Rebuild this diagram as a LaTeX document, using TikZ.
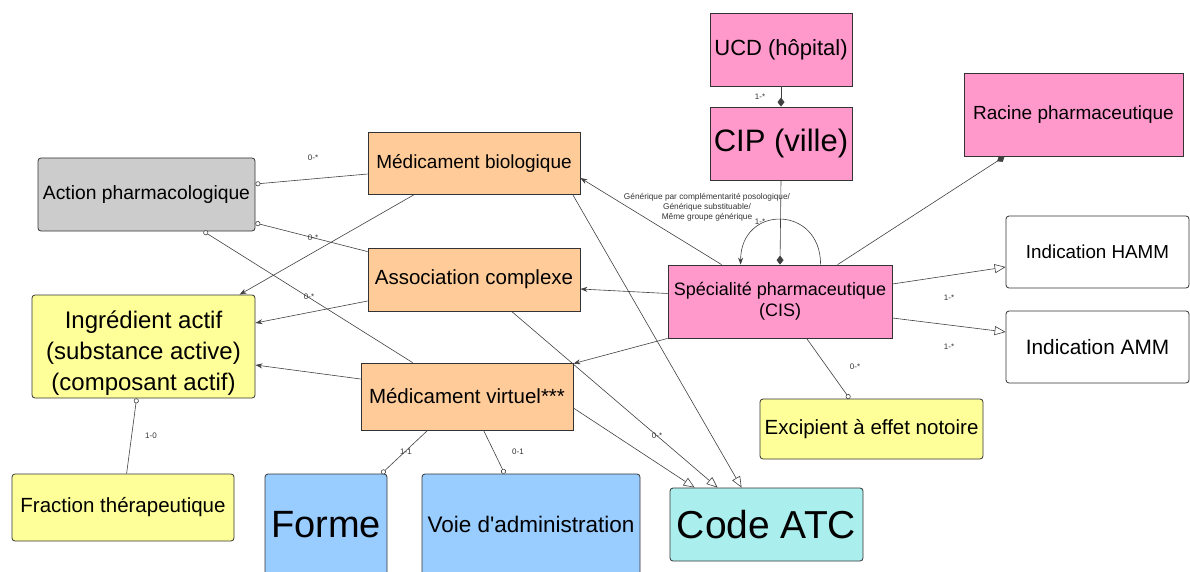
\documentclass[tikz,border=0pt]{standalone}
\usepackage{fontspec}
\setmainfont{Liberation Sans}
\usetikzlibrary{arrows.meta,calc}
\definecolor{cpink}{HTML}{FF99CC}
\definecolor{corange}{HTML}{FFCC99}
\definecolor{cgray}{HTML}{CCCCCC}
\definecolor{cyellow}{HTML}{FFFF99}
\definecolor{cblue}{HTML}{99CCFF}
\definecolor{ccyan}{HTML}{AAEEEE}
\definecolor{cline}{HTML}{404040}
\definecolor{cborder}{HTML}{333333}
\newcommand{\fs}[1]{\fontsize{#1}{\fpeval{#1*1.2}}\selectfont}
\tikzset{
  box/.style={draw=cborder, line width=0.8pt, inner sep=2pt, align=center, text=black},
  rbox/.style={box, rounded corners=3pt},
  conn/.style={draw=cline, line width=0.6pt},
  toarr/.style={conn, -{Stealth[length=7pt,width=5pt]}},
  triarr/.style={conn, -{Triangle[open,length=11pt,width=9pt,fill=white]}},
  circarr/.style={conn, -{Circle[open,length=5pt,fill=white]}},
  diamarr/.style={conn, -{Diamond[length=9pt,width=7pt]}},
  mult/.style={font=\fontsize{8}{9.6}\selectfont, text=cborder, inner sep=0pt},
}
\begin{document}
\begin{tikzpicture}[x=1pt,y=-1pt]
\useasboundingbox (0,0) rectangle (1190,572);
\clip (0,0) rectangle (1190,572);
% boxes
\node[box, fill=cpink, minimum width=142pt, minimum height=73pt, font=\fs{22}] (ucd) at (781,49.5) {UCD (hôpital)};
\node[box, fill=cpink, minimum width=142pt, minimum height=73pt, font=\fs{31}] (cip) at (781,143.5) {CIP (ville)};
\node[box, fill=cpink, minimum width=219pt, minimum height=83pt, font=\fs{19}] (racine) at (1073.5,114.5) {Racine pharmaceutique};
\node[box, fill=corange, minimum width=212pt, minimum height=62pt, font=\fs{19}] (medbio) at (474,163) {Médicament biologique};
\node[box, fill=corange, minimum width=212pt, minimum height=63pt, font=\fs{20.5}] (assoc) at (474,279.5) {Association complexe};
\node[box, fill=corange, minimum width=212pt, minimum height=67pt, font=\fs{20.5}] (virt) at (467,396.5) {Médicament virtuel***};
\node[box, fill=cpink, minimum width=224pt, minimum height=73pt, font=\fontsize{18}{21}\selectfont] (spec) at (780,301.5) {Spécialité pharmaceutique\\(CIS)};
\node[rbox, fill=cgray, minimum width=217pt, minimum height=73pt, font=\fs{19.3}] (action) at (146.5,194.5) {Action pharmacologique};
\node[rbox, fill=cyellow, minimum width=223pt, minimum height=103pt, font=\fontsize{24}{31}\selectfont] (ingr) at (143.5,346.5) {\rule{0pt}{30pt}Ingrédient actif\\(substance active)\\(composant actif)};
\node[rbox, fill=cyellow, minimum width=222pt, minimum height=67pt, font=\fs{20.5}] (fraction) at (123,507.5) {Fraction thérapeutique};
\node[rbox, fill=cblue, minimum width=122pt, minimum height=101pt, font=\fs{38}] (forme) at (326,524.5) {Forme};
\node[rbox, fill=cblue, minimum width=218pt, minimum height=101pt, font=\fs{22.5}] (voie) at (531,524.5) {Voie d\textquotesingle administration};
\node[rbox, fill=ccyan, minimum width=193pt, minimum height=73pt, font=\fs{39}] (atc) at (766.5,524.5) {Code ATC};
\node[rbox, fill=cyellow, minimum width=223pt, minimum height=60pt, font=\fs{20.5}] (excip) at (871.5,429) {Excipient à effet notoire};
\node[rbox, fill=white, minimum width=183pt, minimum height=72pt, font=\fs{18.8}] (hamm) at (1097.5,252) {Indication HAMM};
\node[rbox, fill=white, minimum width=183pt, minimum height=72pt, font=\fs{20.8}] (amm) at (1097.5,347) {Indication AMM};
% connectors
\draw[diamarr] (ucd.south) -- (cip.north);
\draw[diamarr] (cip.south) -- (spec.north);
\draw[toarr] ($(spec.north west)+(153,0)$) .. controls +(0,-60) and +(0,-60) .. ($(spec.north west)+(73,0)$);
\draw[toarr] ($(spec.north west)+(54,0)$) -- ($(medbio.east)+(0,15)$);
\draw[toarr] ($(spec.west)+(0,-8)$) -- ($(assoc.east)+(0,9.5)$);
\draw[toarr] (spec.south west) -- ($(virt.north east)+(0,1)$);
\draw[diamarr] ($(spec.north west)+(170,0)$) -- ($(racine.south west)+(41,0)$);
\draw[triarr] ($(spec.east)+(0,-17.5)$) -- ($(hamm.west)+(0,15)$);
\draw[triarr] ($(spec.east)+(0,16.5)$) -- ($(amm.west)+(0,-15)$);
\draw[circarr] ($(spec.south west)+(139,0)$) -- ($(excip.north west)+(90,0)$);
\draw[circarr] ($(medbio.west)+(0,11)$) -- ($(action.east)+(0,-10.5)$);
\draw[circarr] ($(assoc.north west)+(0,4)$) -- ($(action.east)+(0,28.5)$);
\draw[circarr] ($(virt.north west)+(52,0)$) -- ($(action.south west)+(166,0)$);
\draw[toarr] ($(medbio.south west)+(47,0)$) -- ($(ingr.north west)+(208,0)$);
\draw[toarr] ($(assoc.west)+(0,21.5)$) -- ($(ingr.east)+(0,-23.5)$);
\draw[toarr] ($(virt.west)+(0,-17.5)$) -- ($(ingr.east)+(0,18.5)$);
\draw[circarr] ($(fraction.north west)+(115,0)$) -- ($(ingr.south west)+(105,0)$);
\draw[circarr] ($(virt.south west)+(67,0)$) -- ($(forme.north west)+(117,0)$);
\draw[circarr] ($(virt.south west)+(123,0)$) -- ($(voie.north west)+(83,0)$);
\draw[triarr] ($(medbio.south west)+(205,0)$) -- ($(atc.north west)+(72,0)$);
\draw[triarr] ($(assoc.south west)+(144,0)$) -- ($(atc.north west)+(48,0)$);
\draw[triarr] ($(virt.east)+(0,11.5)$) -- ($(atc.north west)+(25,0)$);
% multiplicities
\node[mult] (m1) at (760,97) {1-*};
\node[mult] (m2) at (760,222) {1-*};
\node[mult] (m3) at (949,298) {1-*};
\node[mult] (m4) at (949,347) {1-*};
\node[mult] (m5) at (855,367) {0-*};
\node[mult] (m6) at (313,158) {0-*};
\node[mult] (m7) at (313,238) {0-*};
\node[mult] (m8) at (309,297) {0-*};
\node[mult] (m9) at (151,436) {1-0};
\node[mult] (m10) at (406,452) {1-1};
\node[mult] (m11) at (518,452) {0-1};
\node[mult] (m12) at (657,436) {0-*};
\node[mult, align=center, font=\fontsize{8.3}{10}\selectfont] (gen) at (707,207) {Générique par complémentarité posologique/\\Générique substituable/\\Même groupe générique};
\end{tikzpicture}
\end{document}
